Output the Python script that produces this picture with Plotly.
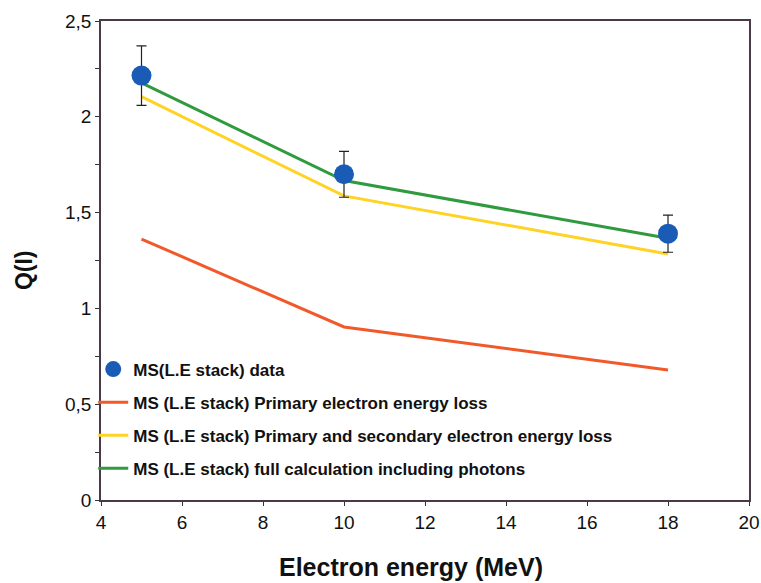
import plotly.graph_objects as go

energy = [5, 10, 18]
data_q = [2.215, 1.70, 1.39]
data_err = [0.155, 0.12, 0.097]
primary = [1.362, 0.903, 0.678]
prim_sec = [2.105, 1.587, 1.284]
full_calc = [2.177, 1.667, 1.366]

names = [
    "MS(L.E stack) data",
    "MS (L.E stack) Primary electron energy loss",
    "MS (L.E stack) Primary and secondary electron energy loss",
    "MS (L.E stack) full calculation including photons",
]
x_title = "Electron energy (MeV)"
y_title = "Q(I)"

fig = go.Figure()
fig.add_trace(go.Scatter(x=energy, y=primary, mode="lines", name="<b>" + names[1] + "</b>",
                         legendgroup="b", legendrank=2,
                         line=dict(color="#f2592a", width=3)))
fig.add_trace(go.Scatter(x=energy, y=prim_sec, mode="lines", name="<b>" + names[2] + "</b>",
                         legendgroup="c", legendrank=3,
                         line=dict(color="#ffd324", width=3)))
fig.add_trace(go.Scatter(x=energy, y=full_calc, mode="lines", name="<b>" + names[3] + "</b>",
                         legendgroup="d", legendrank=4,
                         line=dict(color="#2f9a3e", width=3)))
fig.add_trace(go.Scatter(x=energy, y=data_q, mode="markers", name="<b>" + names[0] + "</b>",
                         legendgroup="a", legendrank=1,
                         marker=dict(color="#1a5cb5", size=20),
                         error_y=dict(type="data", array=data_err, color="#222",
                                      thickness=1.2, width=5)))

fig.update_layout(
    width=761, height=583,
    margin=dict(l=101, r=12, t=21, b=83),
    paper_bgcolor="white", plot_bgcolor="white",
    separators=", ",
    font=dict(family="Liberation Sans, Arial, sans-serif", color="#111"),
    showlegend=True,
    legend=dict(x=-0.012, y=0.31, xanchor="left", yanchor="top",
                bgcolor="rgba(0,0,0,0)", traceorder="grouped", tracegroupgap=8,
                font=dict(size=17, family="Liberation Sans, Arial, sans-serif", color="#111"),
                itemwidth=30),
    xaxis=dict(range=[4, 20], dtick=2, tick0=4, showgrid=False, zeroline=False,
               automargin=False,
               showline=True, linecolor="#4a3a48", linewidth=1.5, mirror=True,
               ticks="outside", ticklen=4, tickcolor="#333",
               tickfont=dict(size=19)),
    yaxis=dict(range=[0, 2.5], dtick=0.5, showgrid=False, zeroline=False,
               automargin=False,
               showline=True, linecolor="#4a3a48", linewidth=1.5, mirror=True,
               ticks="outside", ticklen=4, tickcolor="#333",
               tickfont=dict(size=19),
               minor=dict(dtick=0.25, ticks="outside", ticklen=4, tickcolor="#333")),
    annotations=[
        dict(text="<b>" + x_title + "</b>", xref="paper", yref="paper", x=0.478, y=0,
             xanchor="center", yanchor="middle", yshift=-67, showarrow=False,
             font=dict(size=25, color="#111")),
        dict(text="<b>" + y_title + "</b>", xref="paper", yref="paper", x=0, y=0.48,
             xanchor="center", yanchor="middle", xshift=-77, textangle=-90, showarrow=False,
             font=dict(size=23, color="#111")),
    ],
)

fig.write_html("out.html", config={"displayModeBar": False},
               post_script="document.body.style.margin='0px';")
